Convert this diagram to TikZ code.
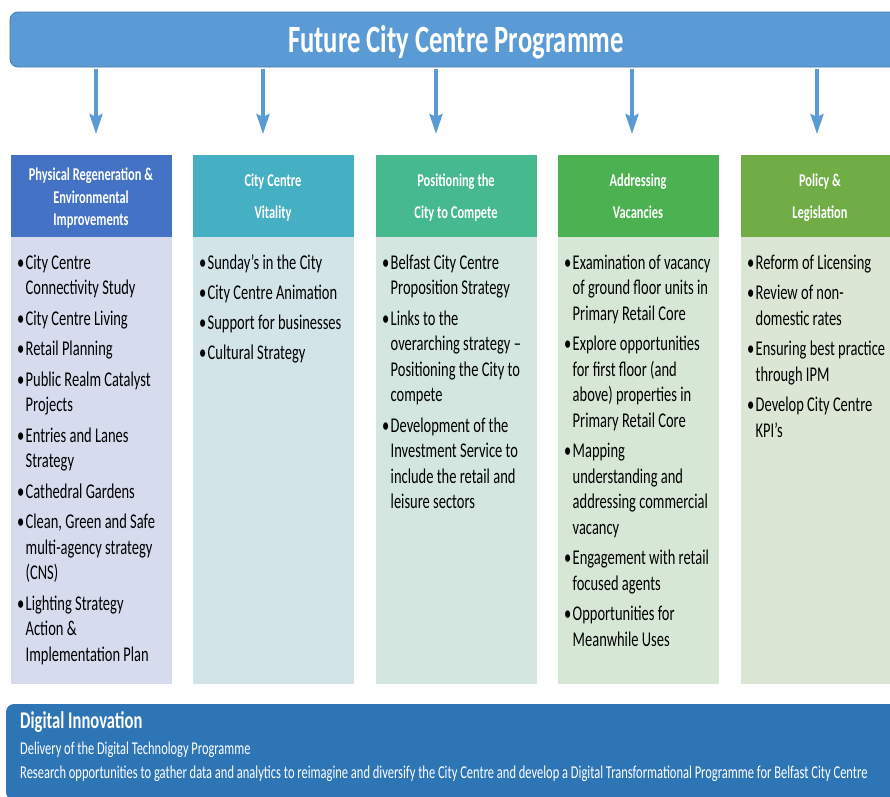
\documentclass[tikz,border=0pt]{standalone}
\usepackage{fontspec}
\setmainfont{Carlito}[FakeStretch=0.69]
\usetikzlibrary{arrows.meta}
\definecolor{topblue}{HTML}{5B9BD5}
\definecolor{botblue}{HTML}{2E75B6}
\definecolor{hA}{HTML}{4472C4}
\definecolor{hB}{HTML}{45AFC4}
\definecolor{hC}{HTML}{46BA8E}
\definecolor{hD}{HTML}{4CB150}
\definecolor{hE}{HTML}{70AD47}
\definecolor{bA}{HTML}{D7DBEE}
\definecolor{bB}{HTML}{D3E4E9}
\definecolor{bC}{HTML}{D3E7E0}
\definecolor{bD}{HTML}{D6E8D5}
\definecolor{bE}{HTML}{DCE6D4}
\newcommand\bitm[1]{\hangindent=14.5pt\hangafter=1\noindent\makebox[14.5pt][l]{\hspace{6pt}•}#1\par}
\newcommand\bodyset{\raggedright\spaceskip=3.3pt\relax\xspaceskip=3.3pt\relax\setlength\parskip{5pt}}
\newcommand\hdrset{\centering\spaceskip=2.9pt\relax\xspaceskip=2.9pt\relax}
\begin{document}
\begin{tikzpicture}[x=1pt,y=-1pt,
  banner/.style={rectangle,rounded corners=8pt,inner sep=0pt},
  hdrbox/.style={rectangle,inner sep=0pt,minimum width=161pt,minimum height=83pt},
  bodybox/.style={rectangle,inner sep=0pt,minimum width=161pt,minimum height=447pt},
  hdrtxt/.style={inner sep=0pt,text width=160pt,text=white,anchor=base,
     font=\bfseries\fontsize{18}{22.5}\selectfont},
  hdrtxtB/.style={hdrtxt,font=\bfseries\fontsize{18}{31.5}\selectfont},
  bodytxt/.style={inner sep=0pt,text width=178pt,anchor=base west,
     font=\fontsize{21}{25.5}\selectfont},
  arr/.style={draw=topblue,line width=3.5pt,-{Stealth[length=20pt,width=13pt,inset=3pt]}}
]
\useasboundingbox (0,0) rectangle (890,796);
\clip (0,0) rectangle (890,796);

% top banner
\node[banner,fill=topblue,draw=topblue!80!black,line width=0.8pt,minimum width=895pt,minimum height=55pt] (top) at (457.5,39.5) {};
\node[inner sep=0pt,anchor=base,text=white,font=\bfseries\fontsize{38.6}{44}\selectfont] (title) at (456,52.5) {Future City Centre Programme};

% arrows
\foreach \i/\x in {1/96,2/263,3/436,4/632,5/817}{
  \coordinate (s\i) at (\x,69);
  \coordinate (e\i) at (\x,134);
  \draw[arr] (s\i) -- (e\i);
}

% column headers
\node[hdrbox,fill=hA] (h1) at (91.5,196) {};
\node[hdrbox,fill=hB] (h2) at (273.5,196) {};
\node[hdrbox,fill=hC] (h3) at (456.5,196) {};
\node[hdrbox,fill=hD] (h4) at (638.5,196) {};
\node[hdrbox,fill=hE] (h5) at (821.5,196) {};

\node[hdrtxt] (ht1) at (91,180.5) {\hdrset Physical Regeneration \&\\Environmental\\Improvements\par};
\node[hdrtxtB] (ht2) at (273,186.7) {\hdrset City Centre\\Vitality\par};
\node[hdrtxtB] (ht3) at (456,186.7) {\hdrset Positioning the\\City to Compete\par};
\node[hdrtxtB] (ht4) at (638,186.7) {\hdrset Addressing\\Vacancies\par};
\node[hdrtxtB] (ht5) at (820,186.7) {\hdrset Policy \&\\Legislation\par};

% column bodies
\node[bodybox,fill=bA] (b1) at (91.5,460.5) {};
\node[bodybox,fill=bB] (b2) at (273.5,460.5) {};
\node[bodybox,fill=bC] (b3) at (456.5,460.5) {};
\node[bodybox,fill=bD] (b4) at (638.5,460.5) {};
\node[bodybox,fill=bE] (b5) at (821.5,460.5) {};

\node[bodytxt] (t1) at (11,269) {\bodyset
\bitm{City Centre\newline Connectivity Study}%
\bitm{City Centre Living}%
\bitm{Retail Planning}%
\bitm{Public Realm Catalyst\newline Projects}%
\bitm{Entries and Lanes\newline Strategy}%
\bitm{Cathedral Gardens}%
\bitm{Clean, Green and Safe\newline multi-agency strategy\newline (CNS)}%
\bitm{Lighting Strategy\newline Action \&\newline Implementation Plan}};

\node[bodytxt] (t2) at (193,269) {\bodyset\setlength\parskip{4.5pt}%
\bitm{Sunday’s in the City}%
\bitm{City Centre Animation}%
\bitm{Support for businesses}%
\bitm{Cultural Strategy}};

\node[bodytxt] (t3) at (376,269) {\bodyset
\bitm{Belfast City Centre\newline Proposition Strategy}%
\bitm{Links to the\newline overarching strategy –\newline Positioning the City to\newline compete}%
\bitm{Development of the\newline Investment Service to\newline include the retail and\newline leisure sectors}};

\node[bodytxt] (t4) at (558,269) {\bodyset
\bitm{Examination of vacancy\newline of ground floor units in\newline Primary Retail Core}%
\bitm{Explore opportunities\newline for first floor (and\newline above) properties in\newline Primary Retail Core}%
\bitm{Mapping\newline understanding and\newline addressing commercial\newline vacancy}%
\bitm{Engagement with retail\newline focused agents}%
\bitm{Opportunities for\newline Meanwhile Uses}};

\node[bodytxt] (t5) at (741,269) {\bodyset
\bitm{Reform of Licensing}%
\bitm{Review of non-\newline domestic rates}%
\bitm{Ensuring best practice\newline through IPM}%
\bitm{Develop City Centre\newline KPI’s}};

% bottom banner
\node[banner,fill=botblue,minimum width=899pt,minimum height=96pt] (bot) at (455.5,752) {};
\node[inner sep=0pt,anchor=base west,text=white,font=\bfseries\fontsize{24}{28}\selectfont] (dt) at (20,728.3) {Digital Innovation};
\node[inner sep=0pt,anchor=base west,text=white,font=\fontsize{18}{22}\selectfont] (d1) at (20,754) {Delivery of the Digital Technology Programme};
\node[inner sep=0pt,anchor=base west,text=white,font=\fontsize{18.1}{22}\selectfont] (d2) at (20,778.5) {Research opportunities to gather data and analytics to reimagine and diversify the City Centre and develop a Digital Transformational Programme for Belfast City Centre};
\end{tikzpicture}
\end{document}
